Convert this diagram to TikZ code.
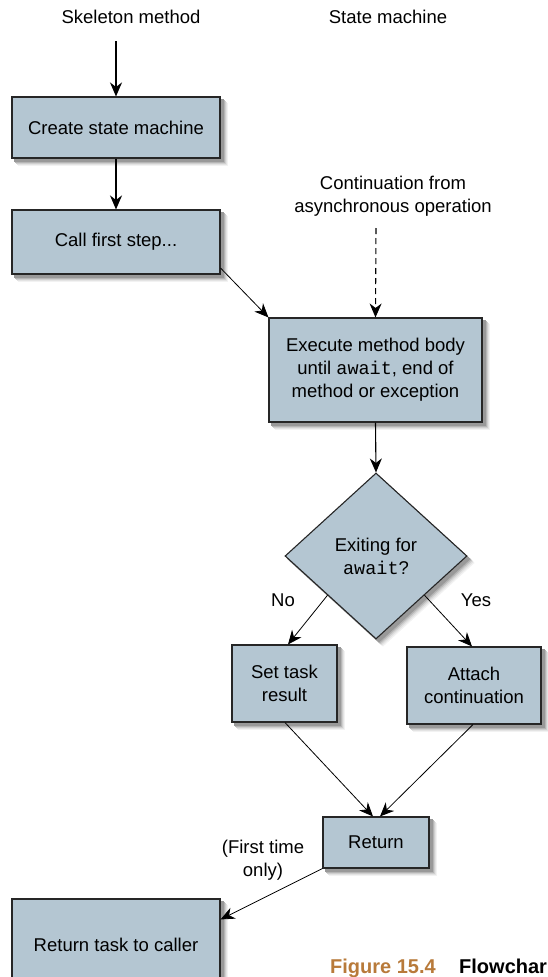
\documentclass[tikz,border=0pt]{standalone}
\usepackage{fontspec}
\setmainfont{Liberation Sans}
\setmonofont{Liberation Mono}
\usetikzlibrary{arrows.meta,shapes.geometric,backgrounds,calc}
\definecolor{boxfill}{HTML}{B4C6D2}
\definecolor{figcol}{HTML}{B87A3A}
\newcommand{\myboxshadow}[1]{%
  \foreach \o/\c in {7/5,6/11,5/19,4/29,3/40}
    \fill[black!\c] ($(#1.south west)+(\o,\o)$) rectangle ($(#1.north east)+(\o,\o)$);}
\newcommand{\mydiamondshadow}[1]{%
  \foreach \o/\c in {7/5,6/11,5/19,4/29,3/40}
    \fill[black!\c] ($(#1.north)+(\o,\o)$) -- ($(#1.east)+(\o,\o)$) -- ($(#1.south)+(\o,\o)$) -- ($(#1.west)+(\o,\o)$) -- cycle;}
\begin{document}
\begin{tikzpicture}[x=1pt,y=-1pt,
  font=\fontsize{18.5}{23}\selectfont,
  procbox/.style={draw=black!85, line width=1.1pt, fill=boxfill,
    align=center, inner sep=0pt},
  decision/.style={procbox, diamond},
  flow/.style={-{Stealth[length=14pt,width=12pt,inset=4.5pt]}, line width=1.1pt},
  thinflow/.style={flow, line width=0.8pt},
  dashflow/.style={flow, dash pattern=on 6pt off 4pt},
  lbl/.style={align=center, inner sep=0pt}]
\useasboundingbox (0,0) rectangle (548,977);

% titles
\node[lbl] (t1) at (131,17) {Skeleton method};
\node[lbl] (t2) at (388,17) {State machine};
\node[lbl] (cont) at (393,196) {Continuation from\\asynchronous operation};

% boxes
\node[procbox, minimum width=208pt, minimum height=61pt] (b1) at (116,127.5) {Create state machine};
\node[procbox, minimum width=208pt, minimum height=64pt] (b2) at (116,242) {Call first step...};
\node[procbox, minimum width=213pt, minimum height=104pt] (b3) at (375.5,370)
  {Execute method body\\until \texttt{await}, end of\\method or exception};
\node[decision, minimum width=182pt, minimum height=166pt] (d) at (376,556)
  {Exiting for\\\texttt{await}?};
\node[procbox, minimum width=105pt, minimum height=77pt] (s) at (284.5,683.5) {Set task\\result};
\node[procbox, minimum width=134pt, minimum height=77pt] (a) at (474,685.5) {Attach\\continuation};
\node[procbox, minimum width=106pt, minimum height=51pt] (r) at (376,842.5) {Return};
\node[procbox, minimum width=208pt, minimum height=92pt] (rt) at (116,945) {Return task to caller};

% shadows
\begin{scope}[on background layer]
  \myboxshadow{b1}
  \myboxshadow{b2}
  \myboxshadow{b3}
  \mydiamondshadow{d}
  \myboxshadow{s}
  \myboxshadow{a}
  \myboxshadow{r}
  \myboxshadow{rt}
\end{scope}

% labels
\node[lbl] (no) at (283,600) {No};
\node[lbl] (yes) at (476,600) {Yes};
\node[lbl] (first) at (263,860) {(First time\\only)};

% caption
\node[anchor=base west, inner sep=0pt, font=\fontsize{20}{24}\selectfont\bfseries, text=figcol] (fig) at (330,973.5) {Figure 15.4};
\node[anchor=base west, inner sep=0pt, font=\fontsize{20}{24}\selectfont\bfseries] (fc) at (459,973.5) {Flowchar};

% connectors
\coordinate (start) at (116,41);
\coordinate (contend) at (376,228);
\draw[flow] (start) -- (b1.north);
\draw[flow] (b1.south) -- (b2.south |- b2.north);
\draw[thinflow] ($(b2.north east)!0.9!(b2.south east)$) -- (b3.north west);
\draw[dashflow] (contend) -- (b3.north);
\draw[flow] (b3.south) -- (d.north);
\draw[thinflow] ($(d.west)!0.47!(d.south)$) -- ([xshift=3.5pt]s.north);
\draw[thinflow] ($(d.east)!0.47!(d.south)$) -- ([xshift=-2pt]a.north);
\draw[thinflow] ([xshift=0.5pt]s.south) -- ([xshift=-3pt]r.north);
\draw[thinflow] ([xshift=-1pt]a.south) -- ([xshift=4pt]r.north);
\draw[thinflow] (r.south west) -- ($(rt.north east)+(0,21)$);
\end{tikzpicture}
\end{document}
